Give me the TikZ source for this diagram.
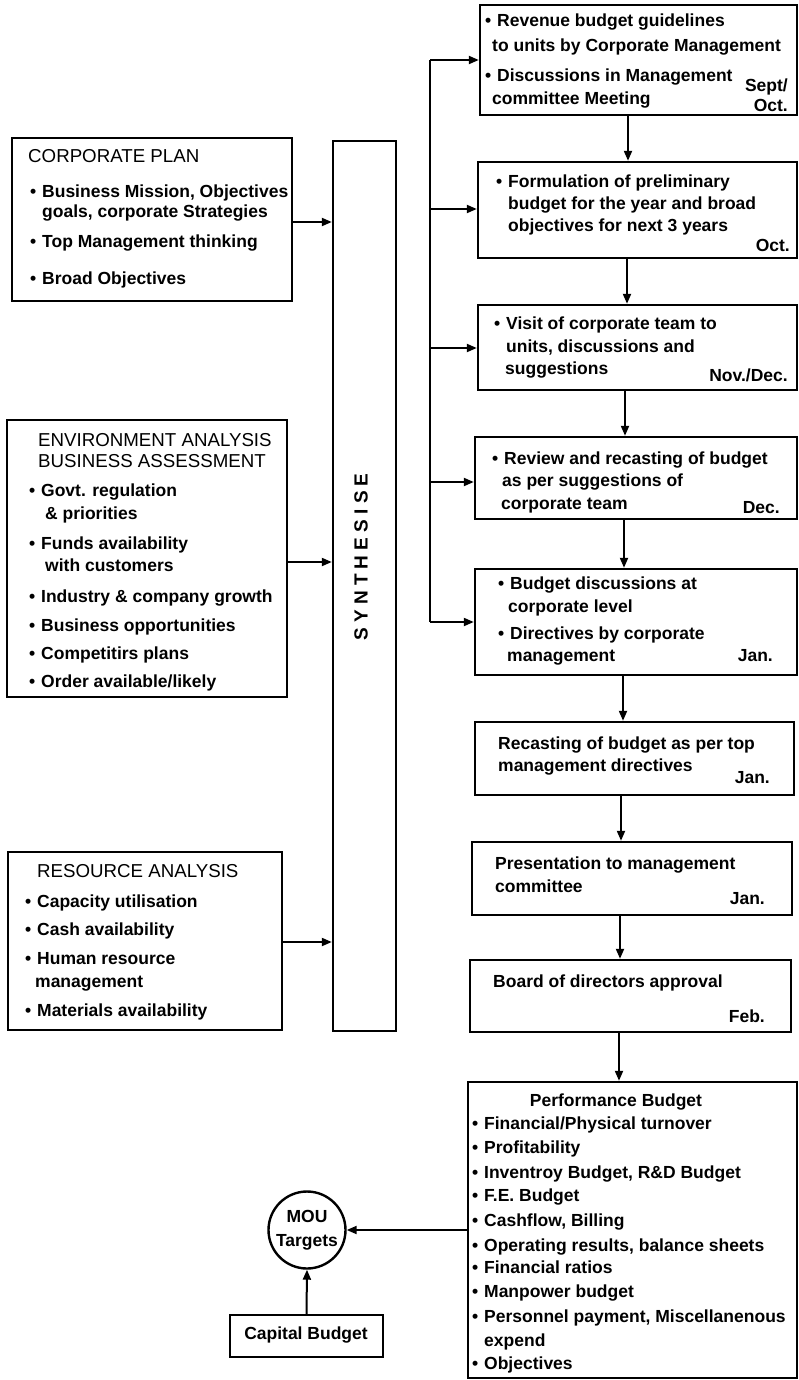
\documentclass[tikz,border=0pt]{standalone}
\usepackage{fontspec}
\setmainfont{Liberation Sans}
\usetikzlibrary{arrows.meta}

% bullet hung in the left margin of a text line
\newcommand\bu{\llap{\textbullet\hspace{6pt}}}
% rectangle node given by its corners: name, x1, y1, x2, y2
\newcommand\rbox[5]{\node[box, minimum width={#4-#2}, minimum height={#5-#3}] (#1) at ({(#2+#4)/2},{(#3+#5)/2}) {};}
\newcommand\ls{\kern5.2pt}

\begin{document}
\begin{tikzpicture}[x=1pt,y=-1pt,
  box/.style={draw, line width=2.4pt, rectangle, inner sep=0pt},
  ln/.style={anchor=west, inner sep=0pt, font=\fontsize{17.5}{20}\bfseries, text height=12.6pt, text depth=3.7pt},
  hd/.style={ln, font=\fontsize{18.7}{20}\selectfont},
  dt/.style={ln, anchor=east},
  ct/.style={ln, anchor=center},
  circ/.style={draw, circle, line width=2.4pt, inner sep=0pt, minimum size=77pt},
  arr/.style={line width=2pt, -{Triangle[length=10pt,width=8pt]}},
  wire/.style={line width=2pt}]

\useasboundingbox (0,0) rectangle (799,1380);
\fill[white] (0,0) rectangle (799,1380);

% ---------- input boxes on the left ----------
\rbox{cp}{12}{138}{292}{301}
\node[hd] (cp0) at (28,158) {CORPORATE PLAN};
\node[ln] (cp1) at (42,193) {\bu Business Mission, Objectives};
\node[ln] (cp2) at (42,213) {goals, corporate Strategies};
\node[ln] (cp3) at (42,243) {\bu Top Management thinking};
\node[ln] (cp4) at (42,280) {\bu Broad Objectives};

\rbox{ea}{7}{420}{287}{697}
\node[hd] (ea0) at (38,442) {ENVIRONMENT ANALYSIS};
\node[hd] (ea1) at (38,463) {BUSINESS ASSESSMENT};
\node[ln] (ea2) at (41,492) {\bu Govt. regulation};
\node[ln] (ea3) at (45,515) {\& priorities};
\node[ln] (ea4) at (41,545) {\bu Funds availability};
\node[ln] (ea5) at (45,567) {with customers};
\node[ln] (ea6) at (41,598) {\bu Industry \& company growth};
\node[ln] (ea7) at (41,627) {\bu Business opportunities};
\node[ln] (ea8) at (41,655) {\bu Competitirs plans};
\node[ln] (ea9) at (41,683) {\bu Order available/likely};

\rbox{ra}{8}{852}{282}{1030}
\node[hd] (ra0) at (37,873) {RESOURCE ANALYSIS};
\node[ln] (ra1) at (37,903) {\bu Capacity utilisation};
\node[ln] (ra2) at (37,931) {\bu Cash availability};
\node[ln] (ra3) at (37,960) {\bu Human resource};
\node[ln] (ra4) at (35,983) {management};
\node[ln] (ra5) at (37,1012) {\bu Materials availability};

% ---------- synthesis column ----------
\rbox{syn}{333}{141}{396}{1031}
\node[rotate=90, inner sep=0pt, font=\fontsize{19}{20}\bfseries] (syntxt) at (361,557)
  {S\ls Y\ls N\ls T\ls H\ls E\ls S\ls I\ls S\ls E};

\draw[arr] (cp.east |- 0,222) -- (syn.west |- 0,222);
\draw[arr] (ea.east |- 0,562) -- (syn.west |- 0,562);
\draw[arr] (ra.east |- 0,942) -- (syn.west |- 0,942);

% ---------- budget cycle on the right ----------
\rbox{r1}{480}{5}{797}{115}
\node[ln] (r1a) at (497,22) {\bu Revenue budget guidelines};
\node[ln] (r1b) at (492,47) {to units by Corporate Management};
\node[ln] (r1c) at (497,77) {\bu Discussions in Management};
\node[ln] (r1d) at (492,100) {committee Meeting};
\node[dt] (r1e) at (788,87) {Sept/};
\node[dt] (r1f) at (788,107) {Oct.};

\rbox{r2}{478}{162}{797}{258}
\node[ln] (r2a) at (508,183) {\bu Formulation of preliminary};
\node[ln] (r2b) at (508,205) {budget for the year and broad};
\node[ln] (r2c) at (508,227) {objectives for next 3 years};
\node[dt] (r2d) at (790,247) {Oct.};

\rbox{r3}{478}{305}{797}{390}
\node[ln] (r3a) at (506,325) {\bu Visit of corporate team to};
\node[ln] (r3b) at (506,348) {units, discussions and};
\node[ln] (r3c) at (505,370) {suggestions};
\node[dt] (r3d) at (788,377) {Nov./Dec.};

\rbox{r4}{475}{437}{797}{519}
\node[ln] (r4a) at (504,460) {\bu Review and recasting of budget};
\node[ln] (r4b) at (502,482) {as per suggestions of};
\node[ln] (r4c) at (501,505) {corporate team};
\node[dt] (r4d) at (780,509) {Dec.};

\rbox{r5}{475}{569}{797}{675}
\node[ln] (r5a) at (510,585) {\bu Budget discussions at};
\node[ln] (r5b) at (508,608) {corporate level};
\node[ln] (r5c) at (510,635) {\bu Directives by corporate};
\node[ln] (r5d) at (507,657) {management};
\node[dt] (r5e) at (773,657) {Jan.};

\rbox{r6}{475}{722}{794}{795}
\node[ln] (r6a) at (498,745) {Recasting of budget as per top};
\node[ln] (r6b) at (498,767) {management directives};
\node[dt] (r6c) at (770,779) {Jan.};

\rbox{r7}{472}{842}{792}{915}
\node[ln] (r7a) at (495,865) {Presentation to management};
\node[ln] (r7b) at (495,888) {committee};
\node[dt] (r7c) at (765,900) {Jan.};

\rbox{r8}{470}{960}{791}{1032}
\node[ln] (r8a) at (493,983) {Board of directors approval};
\node[dt] (r8b) at (765,1018) {Feb.};

\rbox{pb}{468}{1082}{797}{1378}
\node[ct] (pb0) at (616,1102) {Performance Budget};
\node[ln] (pb1) at (484,1125) {\bu Financial/Physical turnover};
\node[ln] (pb2) at (484,1149) {\bu Profitability};
\node[ln] (pb3) at (484,1174) {\bu Inventroy Budget, R\&D Budget};
\node[ln] (pb4) at (484,1197) {\bu F.E. Budget};
\node[ln] (pb5) at (484,1222) {\bu Cashflow, Billing};
\node[ln] (pb6) at (484,1247) {\bu Operating results, balance sheets};
\node[ln] (pb7) at (484,1269) {\bu Financial ratios};
\node[ln] (pb8) at (484,1293) {\bu Manpower budget};
\node[ln] (pb9) at (484,1318) {\bu Personnel payment, Miscellanenous};
\node[ln] (pb10) at (484,1342) {expend};
\node[ln] (pb11) at (484,1365) {\bu Objectives};

% feedback bus to the first five stages
\coordinate (b1) at (430,60);
\coordinate (b2) at (430,209);
\coordinate (b3) at (430,348);
\coordinate (b4) at (430,482);
\coordinate (b5) at (430,622);
\draw[wire] (b1) -- (b5);
\draw[arr] (b1) -- (b1 -| r1.west);
\draw[arr] (b2) -- (b2 -| r2.west);
\draw[arr] (b3) -- (b3 -| r3.west);
\draw[arr] (b4) -- (b4 -| r4.west);
\draw[arr] (b5) -- (b5 -| r5.west);

% stage to stage
\draw[arr] (r1.south -| 628,0) -- (r2.north -| 628,0);
\draw[arr] (r2.south -| 627,0) -- (r3.north -| 627,0);
\draw[arr] (r3.south -| 625,0) -- (r4.north -| 625,0);
\draw[arr] (r4.south -| 624,0) -- (r5.north -| 624,0);
\draw[arr] (r5.south -| 623,0) -- (r6.north -| 623,0);
\draw[arr] (r6.south -| 621,0) -- (r7.north -| 621,0);
\draw[arr] (r7.south -| 620,0) -- (r8.north -| 620,0);
\draw[arr] (r8.south -| 619,0) -- (pb.north -| 619,0);

% ---------- MOU targets ----------
\node[circ, align=center, font=\fontsize{17.5}{24}\bfseries] (mou) at (307,1230) {MOU\\Targets};
\rbox{cb}{230}{1315}{383}{1357}
\node[ct] (cbt) at (306,1335) {Capital Budget};
\draw[arr] (pb.west |- mou.east) -- (mou.east);
\draw[arr] (cb.north) -- (mou.south);

\end{tikzpicture}
\end{document}
